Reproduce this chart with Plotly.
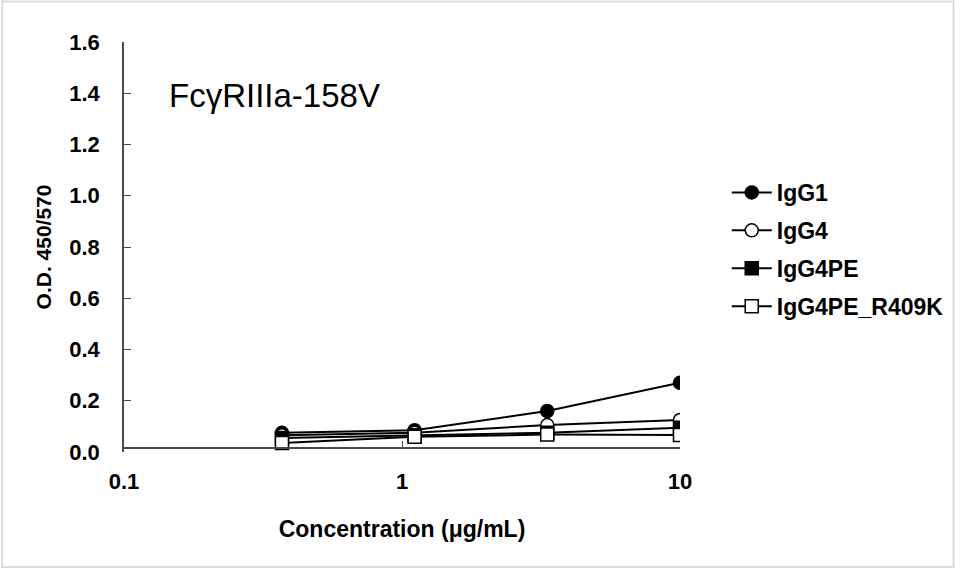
import plotly.graph_objects as go

# Antibody concentrations (µg/mL), 3-fold dilution series
concentration = [0.37, 1.11, 3.33, 10.0]

# O.D. 450/570 readings per antibody
igg1 = [0.075, 0.085, 0.16, 0.27]
igg4 = [0.065, 0.075, 0.105, 0.125]
igg4pe = [0.055, 0.065, 0.075, 0.095]
igg4pe_r409k = [0.035, 0.06, 0.068, 0.066]

series_names = ["IgG1", "IgG4", "IgG4PE", "IgG4PE_R409K"]
series_values = [igg1, igg4, igg4pe, igg4pe_r409k]
series_symbols = ["circle", "circle", "square", "square"]
series_fills = ["black", "white", "black", "white"]

x_ticks = [0.1, 1, 10]
x_tick_labels = ["0.1", "1", "10"]
y_ticks = [0.0, 0.2, 0.4, 0.6, 0.8, 1.0, 1.2, 1.4, 1.6]
y_tick_labels = [f"{v:.1f}" for v in y_ticks]

FONT = "Arial, Liberation Sans, sans-serif"
AXIS_COLOR = "#4a4a4a"

W, H = 961, 569
ML, MR, MT, MB = 124, 278, 42, 117
plot_w = W - ML - MR
plot_h = H - MT - MB

fig = go.Figure()
for i, (name, vals, sym, fill) in enumerate(
    zip(series_names, series_values, series_symbols, series_fills)
):
    fig.add_trace(
        go.Scatter(
            x=concentration,
            y=vals,
            name=name,
            legendgroup=f"g{i}",
            mode="lines+markers",
            line=dict(color="black", width=2),
            marker=dict(
                symbol=sym,
                size=13,
                color=fill,
                line=dict(color="black", width=1.5),
            ),
        )
    )

fig.update_layout(
    width=W,
    height=H,
    margin=dict(l=ML, r=MR, t=MT, b=MB),
    paper_bgcolor="white",
    plot_bgcolor="white",
    font=dict(family=FONT, color="black"),
    showlegend=True,
    legend=dict(
        x=(730 - ML) / plot_w,
        xanchor="left",
        y=(452 - 171) / plot_h,
        yanchor="top",
        font=dict(family=FONT, size=23, color="black", weight="bold"),
        tracegroupgap=5,
        bgcolor="rgba(0,0,0,0)",
        itemwidth=40,
    ),
    xaxis=dict(
        type="log",
        range=[-1, 1],
        tickvals=x_ticks,
        ticktext=x_tick_labels,
        showgrid=False,
        zeroline=False,
        showline=True,
        linecolor=AXIS_COLOR,
        linewidth=1.5,
        ticks="inside",
        ticklen=6,
        tickwidth=1,
        tickcolor=AXIS_COLOR,
        anchor="free",
        position=4 / plot_h,
        ticklabelstandoff=14,
        tickfont=dict(family=FONT, size=22, weight="bold"),
        title=dict(
            text="Concentration (μg/mL)",
            font=dict(family=FONT, size=23, weight="bold"),
            standoff=27,
        ),
    ),
    yaxis=dict(
        range=[0, 1.6],
        tickvals=y_ticks,
        ticktext=y_tick_labels,
        showgrid=False,
        zeroline=False,
        showline=True,
        linecolor=AXIS_COLOR,
        linewidth=1.5,
        ticks="inside",
        ticklen=7,
        tickwidth=1,
        tickcolor=AXIS_COLOR,
        ticklabelstandoff=18,
        tickfont=dict(family=FONT, size=22, weight="bold"),
        title=dict(
            text="O.D. 450/570",
            font=dict(family=FONT, size=21, weight="bold"),
            standoff=12,
        ),
    ),
)

# Receptor label inside the plot area
fig.add_annotation(
    text="FcγRIIIa-158V",
    xref="paper",
    yref="paper",
    x=(167 - ML) / plot_w,
    y=(452 - 95) / plot_h,
    xanchor="left",
    yanchor="middle",
    showarrow=False,
    font=dict(family=FONT, size=33, color="black"),
)

# Thin light frame around the whole figure
fig.add_shape(
    type="rect",
    xref="paper",
    yref="paper",
    x0=(1.5 - ML) / plot_w,
    x1=(958 - ML) / plot_w,
    y0=(452 - 567) / plot_h,
    y1=(452 - 1.5) / plot_h,
    line=dict(color="#dcdcdc", width=2),
    fillcolor="rgba(0,0,0,0)",
    layer="below",
)

fig.write_html("out.html")
